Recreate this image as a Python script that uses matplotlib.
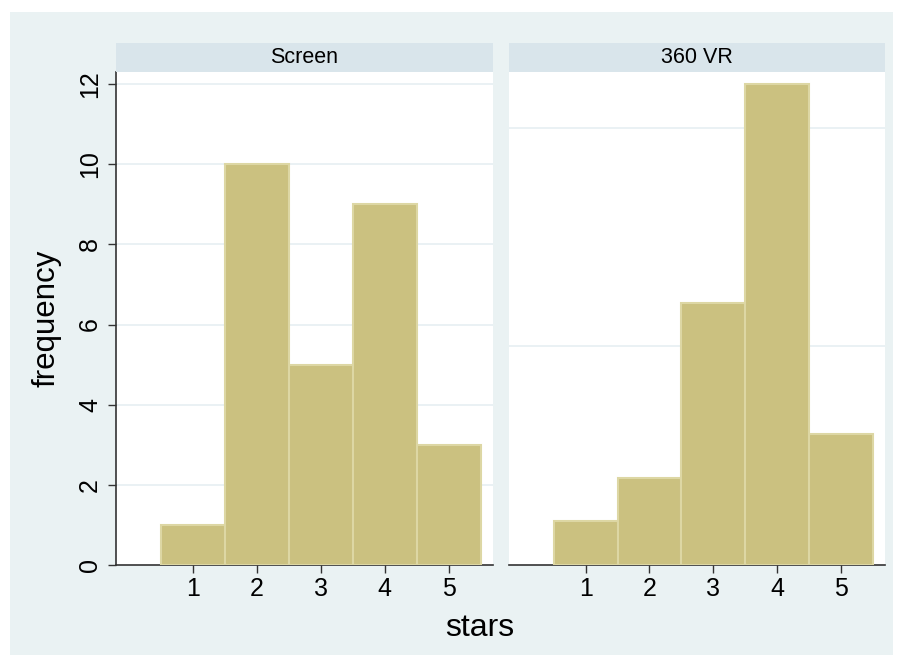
import matplotlib
matplotlib.use("Agg")
import matplotlib.pyplot as plt
from matplotlib.patches import Rectangle

stars = [1, 2, 3, 4, 5]
screen_freq = [1, 10, 5, 9, 3]
vr_freq = [1, 2, 6, 11, 3]
panel_titles = ["Screen", "360 VR"]
yticks_left = [0, 2, 4, 6, 8, 10, 12]
yticks_right = [5, 10]

plt.rcParams['font.family'] = ['Liberation Sans', 'DejaVu Sans']

W, H = 901, 666
fig = plt.figure(figsize=(W / 100, H / 100), dpi=100)
fig.patch.set_facecolor('white')

def px(x0, y0, x1, y1):
    return [x0 / W, 1 - y1 / H, (x1 - x0) / W, (y1 - y0) / H]

bg = '#EAF2F3'
strip_c = '#D9E5EB'
bar_c = '#CBC180'
bar_edge = '#DDD7A4'
grid_c = '#E6EFF2'

fig.add_artist(Rectangle((10 / W, 1 - 655 / H), 883 / W, 643 / H,
                         transform=fig.transFigure, facecolor=bg,
                         edgecolor='none', zorder=0))

panels = [
    (116, 493, screen_freq, 12.3, yticks_left, True),
    (509, 885, vr_freq, 12.3 * 11 / 12, yticks_right, False),
]

for (x0, x1, vals, ymax, grid_ticks, show_y), title in zip(panels, panel_titles):
    ax = fig.add_axes(px(x0, 72, x1, 565))
    ax.set_facecolor('white')
    ax.bar(stars, vals, width=1.0, color=bar_c, edgecolor=bar_edge,
           linewidth=1.5, zorder=3)
    ax.set_xlim(-0.2, 5.69)
    ax.set_ylim(0, ymax)
    for g in grid_ticks:
        if g > 0:
            ax.axhline(g, color=grid_c, lw=1.2, zorder=1)
    for s in ['top', 'right']:
        ax.spines[s].set_visible(False)
    ax.spines['bottom'].set_color('#333333')
    ax.spines['bottom'].set_linewidth(1.2)
    ax.set_xticks(stars)
    ax.set_xticklabels([str(s) for s in stars], fontsize=18)
    ax.tick_params(axis='x', length=6, width=1.0, color='#333333', pad=3)
    if show_y:
        ax.spines['left'].set_color('#333333')
        ax.spines['left'].set_linewidth(1.2)
        ax.set_yticks(yticks_left)
        ax.set_yticklabels([str(t) for t in yticks_left], fontsize=18,
                           rotation=90, va='center')
        ax.tick_params(axis='y', length=6, width=1.0, color='#333333', pad=4)
        ax.set_ylabel('frequency', fontsize=22.5, labelpad=12)
    else:
        ax.spines['left'].set_visible(False)
        ax.set_yticks([])
    # strip
    sax = fig.add_axes(px(x0, 43, x1, 72))
    sax.set_facecolor(strip_c)
    sax.set_xticks([]); sax.set_yticks([])
    for s in sax.spines.values():
        s.set_visible(False)
    sax.text(0.5, 0.5, title, ha='center', va='center', fontsize=15.5,
             transform=sax.transAxes)

fig.text(480 / W, 1 - 628 / H, 'stars', ha='center', va='center', fontsize=23)

fig.savefig('out.png', dpi=100, facecolor=fig.get_facecolor())
